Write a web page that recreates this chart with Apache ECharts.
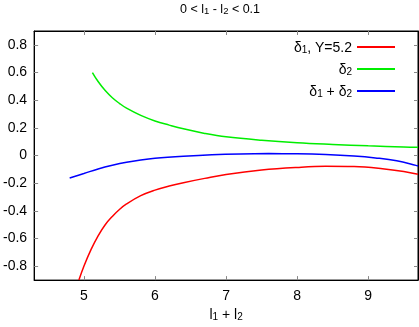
<!DOCTYPE html>
<html><head><meta charset="utf-8">
<script src="https://cdn.jsdelivr.net/npm/echarts@6/dist/echarts.min.js"></script>
<style>html,body{margin:0;padding:0;background:#fff}#c{width:419px;height:327px}</style>
</head><body><div id="c"></div>
<script>
const xTicks = [5, 6, 7, 8, 9];
const yTicks = [-0.8, -0.6, -0.4, -0.2, 0, 0.2, 0.4, 0.6, 0.8];
const redX = [4.93, 5.0, 5.1, 5.2, 5.3, 5.4, 5.5, 5.6, 5.8, 6.0, 6.2, 6.4, 6.7, 7.0, 7.5, 8.0, 8.4, 8.8, 9.2, 9.5, 9.7];
const redY = [-0.9, -0.8, -0.68, -0.58, -0.5, -0.44, -0.39, -0.35, -0.29, -0.25, -0.22, -0.196, -0.165, -0.137, -0.105, -0.086, -0.078, -0.08, -0.095, -0.115, -0.135];
const greenX = [5.12, 5.2, 5.3, 5.4, 5.5, 5.6, 5.8, 6.0, 6.2, 6.4, 6.7, 7.0, 7.5, 8.0, 8.5, 9.0, 9.5, 9.7];
const greenY = [0.6, 0.535, 0.47, 0.418, 0.377, 0.342, 0.29, 0.25, 0.22, 0.193, 0.16, 0.135, 0.11, 0.092, 0.08, 0.07, 0.062, 0.06];
const blueX = [4.8, 5.0, 5.2, 5.4, 5.6, 5.8, 6.0, 6.4, 6.8, 7.2, 7.6, 8.0, 8.4, 8.8, 9.1, 9.4, 9.7];
const blueY = [-0.162, -0.13, -0.097, -0.07, -0.048, -0.032, -0.02, -0.005, 0.006, 0.012, 0.014, 0.013, 0.008, -0.003, -0.017, -0.038, -0.075];
const seriesNames = ['d1', 'd2', 'd12'];

const zip = (a, b) => a.map((v, i) => [v, b[i]]);
const font = 'Liberation Sans, Arial, sans-serif';
const mkRich = (fs, ss) => ({
  n: {fontSize: fs, fontFamily: font, color: '#000', fontWeight: 'normal', lineHeight: fs + 2, verticalAlign: 'bottom'},
  s: {fontSize: ss, fontFamily: font, color: '#000', fontWeight: 'normal', lineHeight: 6, verticalAlign: 'bottom'}
});
const legendText = {
  d1: '{n|δ}{s|1}{n|, Y=5.2}',
  d2: '{n|δ}{s|2}',
  d12: '{n|δ}{s|1}{n| + δ}{s|2}'
};
const tickStyle = {show: true, inside: true, length: 4, lineStyle: {color: '#888', width: 1}};
const chart = echarts.init(document.getElementById('c'), null, {renderer: 'canvas'});
chart.setOption({
  animation: false,
  backgroundColor: '#fff',
  graphic: [{
    type: 'text', left: 180, top: 3,
    style: {
      text: '{n|0 < l}{s|1}{n| - l}{s|2}{n| < 0.1}',
      rich: mkRich(12.5, 9.5)
    }
  }],
  legend: {
    orient: 'vertical', right: 19, top: 36, align: 'right',
    icon: 'rect', itemWidth: 38, itemHeight: 2, itemGap: 8,
    data: seriesNames,
    formatter: n => legendText[n],
    textStyle: {rich: mkRich(14, 10)}
  },
  grid: {left: 32, right: 1, top: 31, bottom: 45, show: true, borderColor: '#000', borderWidth: 1},
  xAxis: [{
    type: 'value', min: 4.3, max: 9.7,
    name: '{n|l}{s|1}{n| + l}{s|2}', nameLocation: 'middle', nameGap: 21,
    nameTextStyle: {rich: mkRich(14, 10)},
    axisLine: {show: true, onZero: false, lineStyle: {color: '#000'}},
    axisTick: Object.assign({customValues: xTicks}, tickStyle),
    axisLabel: {customValues: xTicks, color: '#000', fontFamily: font, fontSize: 14, margin: 9},
    splitLine: {show: false}
  }, {
    type: 'value', min: 4.3, max: 9.7, position: 'top',
    axisLine: {show: true, onZero: false, lineStyle: {color: '#000'}},
    axisTick: Object.assign({customValues: xTicks}, tickStyle),
    axisLabel: {show: false}, splitLine: {show: false}
  }],
  yAxis: [{
    type: 'value', min: -0.9, max: 0.9,
    axisLine: {show: true, onZero: false, lineStyle: {color: '#000'}},
    axisTick: Object.assign({customValues: yTicks}, tickStyle),
    axisLabel: {customValues: yTicks, color: '#000', fontFamily: font, fontSize: 14, margin: 7},
    splitLine: {show: false}
  }, {
    type: 'value', min: -0.9, max: 0.9, position: 'right',
    axisLine: {show: true, onZero: false, lineStyle: {color: '#000'}},
    axisTick: Object.assign({customValues: yTicks}, tickStyle),
    axisLabel: {show: false}, splitLine: {show: false}
  }],
  series: [
    {name: 'd1', type: 'line', data: zip(redX, redY), smooth: 0.4, showSymbol: false, color: '#ff0000', lineStyle: {width: 1.5}},
    {name: 'd2', type: 'line', data: zip(greenX, greenY), smooth: 0.4, showSymbol: false, color: '#00ee00', lineStyle: {width: 1.5}},
    {name: 'd12', type: 'line', data: zip(blueX, blueY), smooth: 0.4, showSymbol: false, color: '#0000ff', lineStyle: {width: 1.5}}
  ]
});
</script></body></html>
